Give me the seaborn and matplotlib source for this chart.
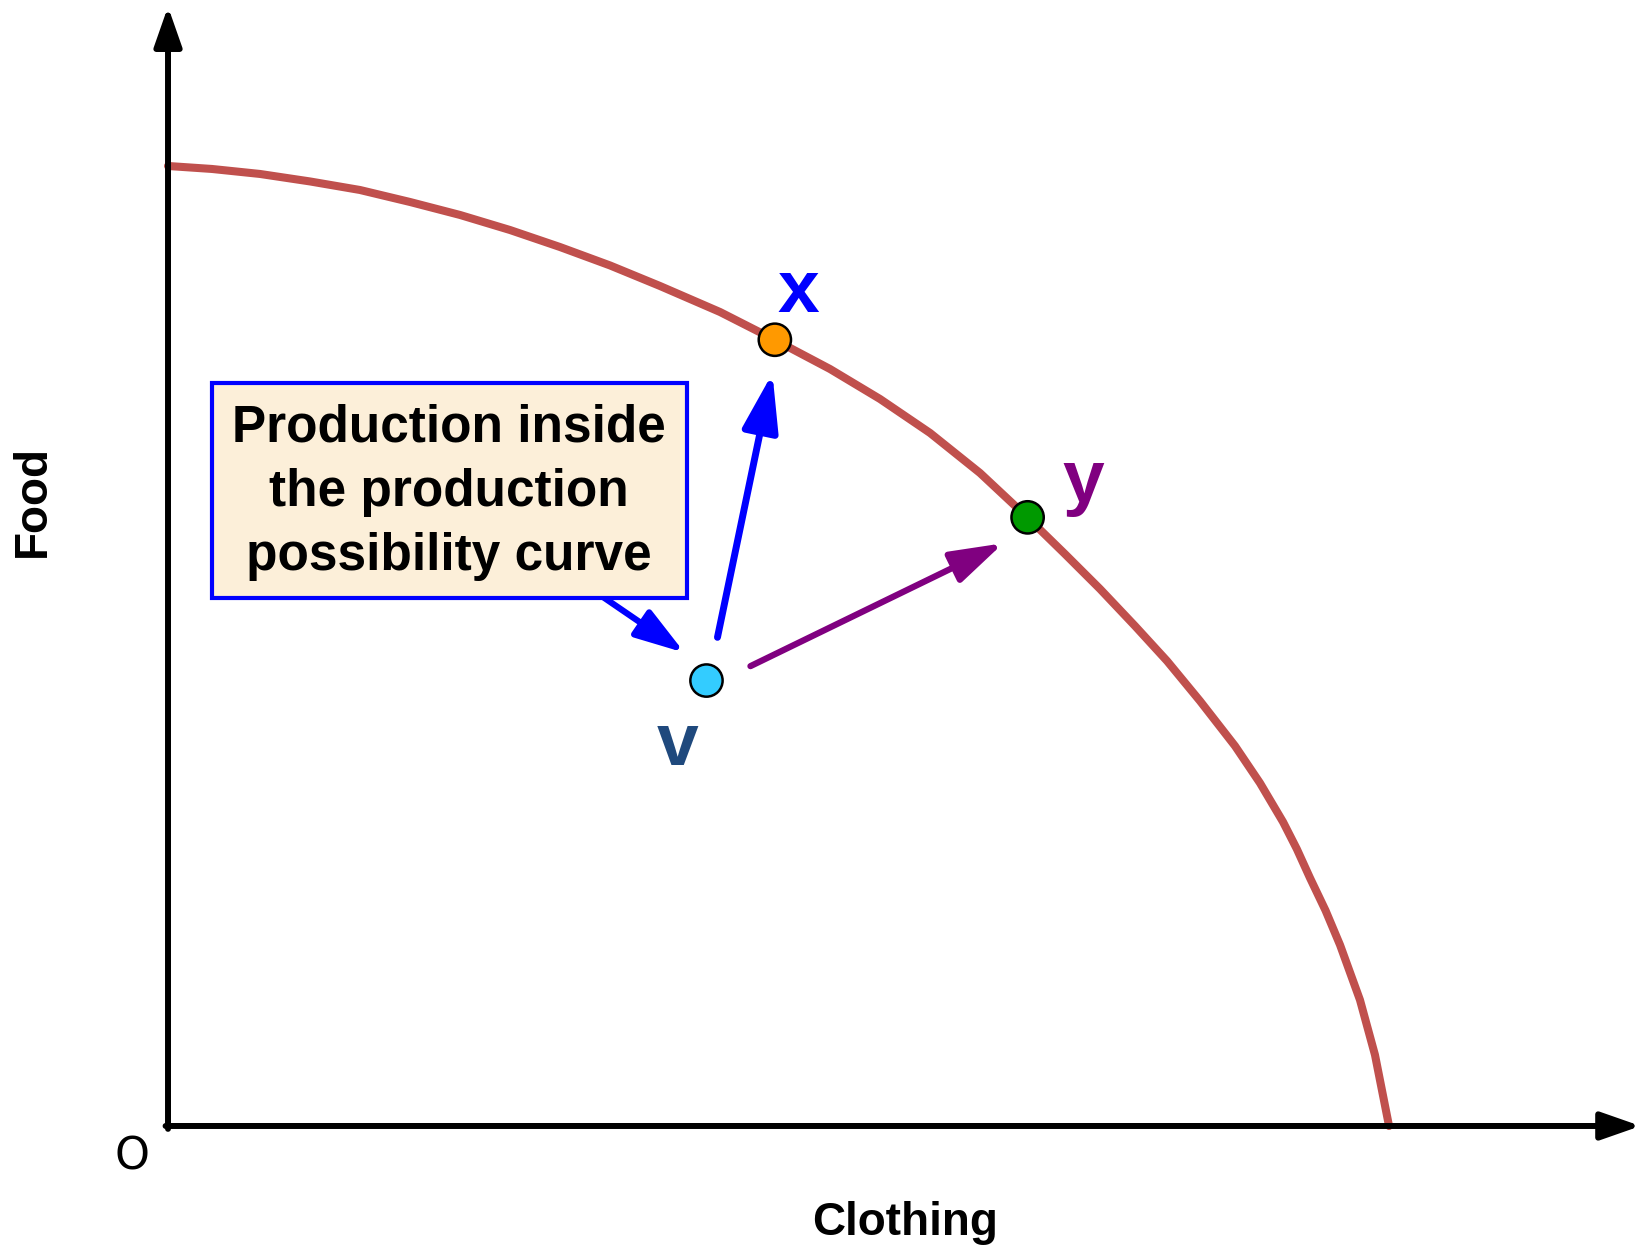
import matplotlib
matplotlib.use("Agg")
import matplotlib.pyplot as plt
import seaborn as sns
import pandas as pd
from matplotlib.patches import Rectangle

# --- curve (Clothing 0..100, Food 0..100) ---
ppc_clothing = [0.0, 3.60, 7.53, 11.63, 15.72, 19.82, 23.91, 28.01, 32.10,
                36.20, 40.29, 45.21, 49.71, 54.22, 58.31, 62.41, 66.50, 70.35,
                73.46, 76.33, 79.20, 81.82, 84.52, 87.39, 89.43, 91.32, 92.45,
                93.53, 94.80, 95.99, 97.62, 98.85, 100.0]
ppc_food = [100.0, 99.69, 99.17, 98.39, 97.50, 96.25, 94.90, 93.33, 91.56,
            89.64, 87.50, 84.79, 81.88, 78.85, 75.73, 72.19, 68.02, 63.44,
            59.58, 55.94, 52.08, 48.44, 44.27, 39.58, 35.73, 31.67, 28.85,
            25.83, 22.45, 18.85, 13.13, 7.40, 0.0]

# --- the three production points ---
point_names = ["x", "y", "v"]
point_clothing = [49.7, 70.4, 44.1]
point_food = [81.9, 63.4, 46.4]
point_colors = {"x": "#FF9900", "y": "#009900", "v": "#33CCFF"}

# --- point labels ---
label_text = ["x", "y", "v"]
label_clothing = [51.6, 75.0, 41.7]
label_food = [84.8, 65.0, 37.6]
label_colors = ["#0000FF", "#800080", "#1F497D"]

# --- movement arrows (start -> end) ---
arrow_start = [(45.0, 50.9), (47.7, 47.9), (35.4, 55.3)]
arrow_end = [(49.5, 78.4), (68.4, 60.7), (42.3, 49.3)]
arrow_colors = ["#0000FF", "#800080", "#0000FF"]

box_text = "Production inside\nthe production\npossibility curve"

sns.set_theme(style="white")
plt.rcParams["font.family"] = ["Liberation Sans", "DejaVu Sans"]
plt.rcParams["text.color"] = "black"

fig = plt.figure(figsize=(16.43, 12.53), dpi=100)
ax = fig.add_axes([0, 0, 1, 1])
ax.set_xlim(-13.76, 120.8)
ax.set_ylim(-13.23, 117.29)
ax.axis("off")

# axes with arrow heads (drawn above the curve)
axis_head = "-|>,head_length=1.2,head_width=0.42"
ax.annotate("", xy=(0, 116.6), xytext=(0, -0.3),
            arrowprops=dict(arrowstyle=axis_head, mutation_scale=20,
                            color="black", lw=4.3, shrinkA=0, shrinkB=0),
            zorder=4)
ax.annotate("", xy=(120.6, 0), xytext=(-0.2, 0),
            arrowprops=dict(arrowstyle=axis_head, mutation_scale=20,
                            color="black", lw=4.3, shrinkA=0, shrinkB=0),
            zorder=4)

# production possibility curve
curve = pd.DataFrame({"Clothing": ppc_clothing, "Food": ppc_food})
sns.lineplot(data=curve, x="Clothing", y="Food", ax=ax, color="#C0504D",
             linewidth=5.8, solid_capstyle="round", solid_joinstyle="round",
             sort=False, zorder=3)

# arrows
heads = ["head_length=1.75,head_width=0.55",
         "head_length=1.6,head_width=0.5",
         "head_length=1.5,head_width=0.48"]
widths = [5.0, 4.5, 4.5]
for s, e, c, h, w in zip(arrow_start, arrow_end, arrow_colors, heads, widths):
    ax.annotate("", xy=e, xytext=s,
                arrowprops=dict(arrowstyle="-|>," + h, mutation_scale=20,
                                color=c, lw=w, shrinkA=0, shrinkB=0),
                zorder=4)

# points
pts = pd.DataFrame({"Clothing": point_clothing, "Food": point_food,
                    "name": point_names})
sns.scatterplot(data=pts, x="Clothing", y="Food", hue="name",
                palette=point_colors, s=540, edgecolor="black", linewidth=1.8,
                legend=False, ax=ax, zorder=6)

for t, cx, fy, col in zip(label_text, label_clothing, label_food, label_colors):
    ax.text(cx, fy, t, color=col, fontsize=54, fontweight="bold",
            ha="center", va="baseline", zorder=7)

# annotation box
ax.add_patch(Rectangle((3.6, 55.0), 38.9, 22.4, facecolor="#FCEFD9",
                       edgecolor="#0000FF", linewidth=3, zorder=5))
ax.text(23.0, 66.0, box_text, fontsize=37, fontweight="bold", color="black",
        ha="center", va="center", linespacing=1.4, zorder=6)

# axis titles
ax.text(-11.1, 65.1, "Food", fontsize=33, fontweight="bold", rotation=90,
        ha="center", va="center", color="black")
ax.text(60.4, -11.35, "Clothing", fontsize=33, fontweight="bold",
        ha="center", va="baseline", color="black")
ax.text(-2.95, -3.23, "O", fontsize=32, ha="center", va="center",
        color="black", fontfamily="DejaVu Sans")

fig.savefig("out.png", dpi=100)
